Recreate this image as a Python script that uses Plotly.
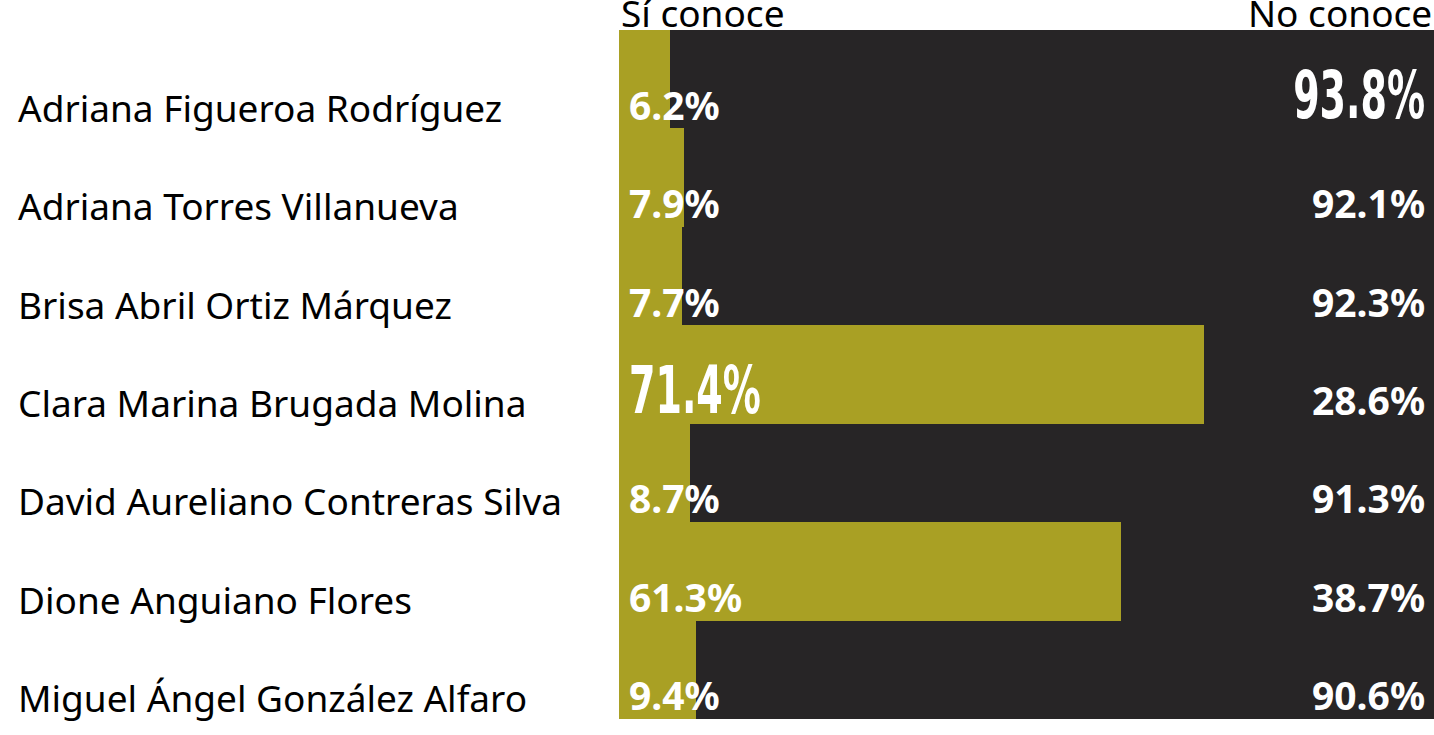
import plotly.graph_objects as go

candidatos = [
    "Adriana Figueroa Rodríguez",
    "Adriana Torres Villanueva",
    "Brisa Abril Ortiz Márquez",
    "Clara Marina Brugada Molina",
    "David Aureliano Contreras Silva",
    "Dione Anguiano Flores",
    "Miguel Ángel González Alfaro",
]
si_conoce = [6.2, 7.9, 7.7, 71.4, 8.7, 61.3, 9.4]
no_conoce = [93.8, 92.1, 92.3, 28.6, 91.3, 38.7, 90.6]
series_names = ["Sí conoce", "No conoce"]

OLIVE = "#A9A024"
DARK = "#272526"
NAME_FONT = "Noto Sans, Lato, sans-serif"
BOLD_FONT = "Noto Sans, Lato, sans-serif"
COND_FONT = "Liberation Sans Narrow, DejaVu Sans Condensed, sans-serif"
BIG = 66

W, H = 1434, 735
ML, MT, MB = 619, 30, 16
plot_w = W - ML
xmax = plot_w / 819 * 100

fig = go.Figure()
fig.add_trace(go.Bar(y=candidatos, x=si_conoce, orientation="h", name=series_names[0],
                     marker=dict(color=OLIVE, line=dict(width=0)), hoverinfo="x+y"))
fig.add_trace(go.Bar(y=candidatos, x=no_conoce, orientation="h", name=series_names[1],
                     marker=dict(color=DARK, line=dict(width=0)), hoverinfo="x+y"))

ann = []
si_max = max(si_conoce)
no_max = max(no_conoce)
for name, s, n in zip(candidatos, si_conoce, no_conoce):
    ann.append(dict(x=0, y=name, xref="x", yref="y", text=name, showarrow=False,
                    xanchor="left", yanchor="middle", xshift=16 - ML, yshift=-28,
                    font=dict(family=NAME_FONT, size=37, color="#000000")))
    if s == si_max:
        f = dict(family=COND_FONT, size=BIG, color="white", weight="bold")
        ys = -16
    else:
        f = dict(family=BOLD_FONT, size=39, color="white", weight="bold")
        ys = -25
    ann.append(dict(x=0, y=name, xref="x", yref="y", text=f"{s:.1f}%", showarrow=False,
                    xanchor="left", yanchor="middle", xshift=8, yshift=ys, font=f))
    if n == no_max:
        f = dict(family=COND_FONT, size=BIG, color="white", weight="bold")
        ys = -16
    else:
        f = dict(family=BOLD_FONT, size=39, color="white", weight="bold")
        ys = -25
    ann.append(dict(x=1, y=name, xref="paper", yref="y", text=f"{n:.1f}%", showarrow=False,
                    xanchor="right", yanchor="middle", xshift=-7, yshift=ys, font=f))

ann.append(dict(x=0, y=1, xref="paper", yref="paper", text=series_names[0], showarrow=False,
                xanchor="left", yanchor="middle", yshift=18,
                font=dict(family=NAME_FONT, size=37, color="#000000")))
ann.append(dict(x=1, y=1, xref="paper", yref="paper", text=series_names[1], showarrow=False,
                xanchor="right", yanchor="middle", yshift=18,
                font=dict(family=NAME_FONT, size=37, color="#000000")))

fig.update_layout(
    width=W, height=H,
    margin=dict(l=ML, r=0, t=MT, b=MB, pad=0),
    barmode="stack", bargap=0,
    showlegend=False,
    plot_bgcolor="white", paper_bgcolor="white",
    xaxis=dict(range=[0, xmax], autorange=False, visible=False, fixedrange=True),
    yaxis=dict(categoryorder="array", categoryarray=candidatos,
               range=[len(candidatos) - 0.5, -0.5], autorange=False,
               showticklabels=False, showgrid=False, zeroline=False, fixedrange=True),
    annotations=ann,
)

# condense the highlighted (largest) value labels horizontally, keeping them as real text
post = """
document.body.style.margin='0px';
document.body.style.overflow='hidden';
function condenseBig(){
  var S = 0.64;
  document.querySelectorAll('text.annotation-text').forEach(function(t){
    if (t.getAttribute('data-cond')) return;
    if (parseFloat(t.style.fontSize) < %d) return;
    var w = t.getComputedTextLength();
    if (!w) return;
    var x = parseFloat(t.getAttribute('x')) || 0;
    var a = t.getAttribute('text-anchor') || 'start';
    var left = a === 'middle' ? x - w/2 : (a === 'end' ? x - w : x);
    var isRight = t.getBoundingClientRect().left > 1000;
    var ax = isRight ? left + w : left;
    var prev = t.getAttribute('transform') || '';
    t.setAttribute('transform', 'matrix(' + S + ',0,0,1,' + (ax*(1-S)).toFixed(2) + ',0) ' + prev);
    t.setAttribute('data-cond','1');
  });
}
condenseBig();
setTimeout(condenseBig, 30);
setTimeout(condenseBig, 200);
var gd = document.getElementById('{plot_id}');
if (gd && gd.on) { gd.on('plotly_afterplot', condenseBig); }
""" % (BIG - 1)

fig.write_html("out.html", config={"displayModeBar": False}, post_script=post)
